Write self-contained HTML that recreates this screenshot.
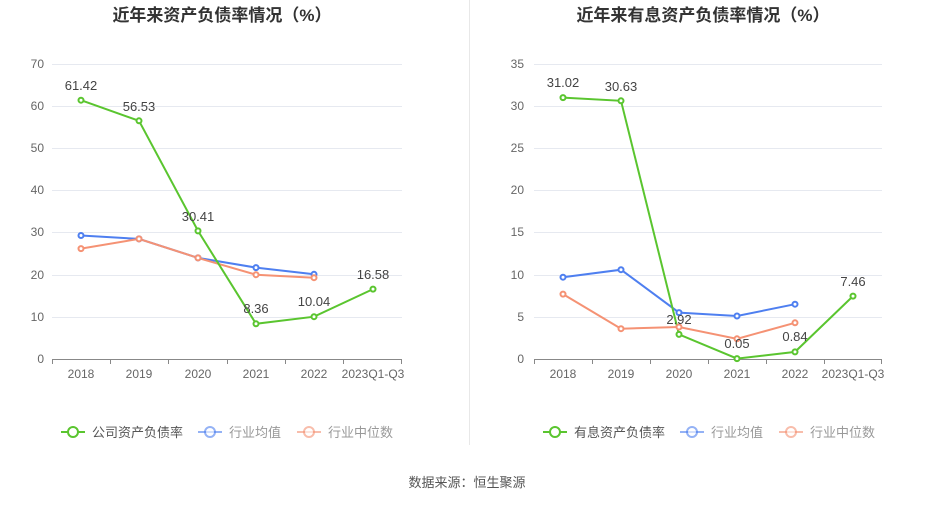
<!DOCTYPE html>
<html><head><meta charset="utf-8"><style>
body{margin:0;background:#fff;}
svg text{font-family:"Liberation Sans","Noto Sans CJK SC",sans-serif;}
</style></head><body>
<svg width="935" height="504" xmlns="http://www.w3.org/2000/svg">
<rect width="935" height="504" fill="#fff"/>
<line x1="469.5" y1="0" x2="469.5" y2="445" stroke="#e8e8e8"/>
<text x="222" y="21" font-size="17" font-weight="bold" text-anchor="middle" fill="#333">近年来资产负债率情况（%）</text>
<text x="703" y="21" font-size="17" font-weight="bold" text-anchor="middle" fill="#333">近年来有息资产负债率情况（%）</text>
<g stroke="#e6e9f0" stroke-width="1">
<line x1="52" x2="402" y1="64.5" y2="64.5"/><line x1="52" x2="402" y1="106.5" y2="106.5"/><line x1="52" x2="402" y1="148.5" y2="148.5"/><line x1="52" x2="402" y1="190.5" y2="190.5"/><line x1="52" x2="402" y1="232.5" y2="232.5"/><line x1="52" x2="402" y1="275.5" y2="275.5"/><line x1="52" x2="402" y1="317.5" y2="317.5"/>
<line x1="534" x2="882" y1="64.5" y2="64.5"/><line x1="534" x2="882" y1="106.5" y2="106.5"/><line x1="534" x2="882" y1="148.5" y2="148.5"/><line x1="534" x2="882" y1="190.5" y2="190.5"/><line x1="534" x2="882" y1="232.5" y2="232.5"/><line x1="534" x2="882" y1="275.5" y2="275.5"/><line x1="534" x2="882" y1="317.5" y2="317.5"/>
</g>
<line x1="52" x2="402" y1="359.5" y2="359.5" stroke="#888"/>
<line x1="534" x2="882" y1="359.5" y2="359.5" stroke="#888"/>
<g stroke="#888">
<line x1="52.5" x2="52.5" y1="359" y2="364"/><line x1="110.5" x2="110.5" y1="359" y2="364"/><line x1="168.5" x2="168.5" y1="359" y2="364"/><line x1="227.5" x2="227.5" y1="359" y2="364"/><line x1="285.5" x2="285.5" y1="359" y2="364"/><line x1="343.5" x2="343.5" y1="359" y2="364"/><line x1="401.5" x2="401.5" y1="359" y2="364"/>
<line x1="534.5" x2="534.5" y1="359" y2="364"/><line x1="592.5" x2="592.5" y1="359" y2="364"/><line x1="650.5" x2="650.5" y1="359" y2="364"/><line x1="708.5" x2="708.5" y1="359" y2="364"/><line x1="766.5" x2="766.5" y1="359" y2="364"/><line x1="824.5" x2="824.5" y1="359" y2="364"/><line x1="881.5" x2="881.5" y1="359" y2="364"/>
</g>
<g font-size="12" fill="#666" text-anchor="end">
<text x="44" y="68">70</text><text x="44" y="110">60</text><text x="44" y="152">50</text><text x="44" y="194">40</text><text x="44" y="236">30</text><text x="44" y="279">20</text><text x="44" y="321">10</text><text x="44" y="363">0</text>
<text x="524" y="68">35</text><text x="524" y="110">30</text><text x="524" y="152">25</text><text x="524" y="194">20</text><text x="524" y="236">15</text><text x="524" y="279">10</text><text x="524" y="321">5</text><text x="524" y="363">0</text>
</g>
<g font-size="12" fill="#666" text-anchor="middle">
<text x="81" y="378">2018</text><text x="139" y="378">2019</text><text x="198" y="378">2020</text><text x="256" y="378">2021</text><text x="314" y="378">2022</text><text x="373" y="378">2023Q1-Q3</text>
<text x="563" y="378">2018</text><text x="621" y="378">2019</text><text x="679" y="378">2020</text><text x="737" y="378">2021</text><text x="795" y="378">2022</text><text x="853" y="378">2023Q1-Q3</text>
</g>
<g fill="#fff" stroke-width="2">
<polyline fill="none" stroke="#4e7ff0" points="81,235.5 139,238.9 198,257.9 256,267.6 314,274.3"/>
<polyline fill="none" stroke="#f59274" points="81,248.6 139,238.9 198,257.9 256,274.7 314,277.7"/>
<polyline fill="none" stroke="#5ac52f" points="81,100.2 139,120.8 198,230.9 256,323.8 314,316.7 373,289.1"/>
<polyline fill="none" stroke="#4e7ff0" points="563,277.2 621,269.7 679,312.6 737,316 795,304.2"/>
<polyline fill="none" stroke="#f59274" points="563,294.1 621,328.7 679,327 737,338.8 795,322.8"/>
<polyline fill="none" stroke="#5ac52f" points="563,97.6 621,100.8 679,334.4 737,358.6 795,351.9 853,296.1"/>
<g stroke="#4e7ff0"><circle cx="81" cy="235.5" r="2.5"/><circle cx="139" cy="238.9" r="2.5"/><circle cx="198" cy="257.9" r="2.5"/><circle cx="256" cy="267.6" r="2.5"/><circle cx="314" cy="274.3" r="2.5"/>
<circle cx="563" cy="277.2" r="2.5"/><circle cx="621" cy="269.7" r="2.5"/><circle cx="679" cy="312.6" r="2.5"/><circle cx="737" cy="316" r="2.5"/><circle cx="795" cy="304.2" r="2.5"/></g>
<g stroke="#f59274"><circle cx="81" cy="248.6" r="2.5"/><circle cx="139" cy="238.9" r="2.5"/><circle cx="198" cy="257.9" r="2.5"/><circle cx="256" cy="274.7" r="2.5"/><circle cx="314" cy="277.7" r="2.5"/>
<circle cx="563" cy="294.1" r="2.5"/><circle cx="621" cy="328.7" r="2.5"/><circle cx="679" cy="327" r="2.5"/><circle cx="737" cy="338.8" r="2.5"/><circle cx="795" cy="322.8" r="2.5"/></g>
<g stroke="#5ac52f"><circle cx="81" cy="100.2" r="2.5"/><circle cx="139" cy="120.8" r="2.5"/><circle cx="198" cy="230.9" r="2.5"/><circle cx="256" cy="323.8" r="2.5"/><circle cx="314" cy="316.7" r="2.5"/><circle cx="373" cy="289.1" r="2.5"/>
<circle cx="563" cy="97.6" r="2.5"/><circle cx="621" cy="100.8" r="2.5"/><circle cx="679" cy="334.4" r="2.5"/><circle cx="737" cy="358.6" r="2.5"/><circle cx="795" cy="351.9" r="2.5"/><circle cx="853" cy="296.1" r="2.5"/></g>
</g>
<g font-size="13" fill="#444" text-anchor="middle">
<text x="81" y="90">61.42</text><text x="139" y="111">56.53</text><text x="198" y="221">30.41</text><text x="256" y="313">8.36</text><text x="314" y="306">10.04</text><text x="373" y="279">16.58</text>
<text x="563" y="87">31.02</text><text x="621" y="91">30.63</text><text x="679" y="324">2.92</text><text x="737" y="348">0.05</text><text x="795" y="341">0.84</text><text x="853" y="286">7.46</text>
</g>
<g font-size="13" fill="#555" stroke-width="2">
<line x1="61" x2="85" y1="432" y2="432" stroke="#5ac52f"/><circle cx="73" cy="432" r="5" fill="#fff" stroke="#5ac52f"/><text x="92" y="437">公司资产负债率</text>
<line x1="198" x2="222" y1="432" y2="432" stroke="#4e7ff0" opacity="0.6"/><circle cx="210" cy="432" r="5" fill="#fff" stroke="#4e7ff0" opacity="0.6"/><text x="229" y="437" fill="#999">行业均值</text>
<line x1="297" x2="321" y1="432" y2="432" stroke="#f59274" opacity="0.6"/><circle cx="309" cy="432" r="5" fill="#fff" stroke="#f59274" opacity="0.6"/><text x="328" y="437" fill="#999">行业中位数</text>
<line x1="543" x2="567" y1="432" y2="432" stroke="#5ac52f"/><circle cx="555" cy="432" r="5" fill="#fff" stroke="#5ac52f"/><text x="574" y="437">有息资产负债率</text>
<line x1="680" x2="704" y1="432" y2="432" stroke="#4e7ff0" opacity="0.6"/><circle cx="692" cy="432" r="5" fill="#fff" stroke="#4e7ff0" opacity="0.6"/><text x="711" y="437" fill="#999">行业均值</text>
<line x1="779" x2="803" y1="432" y2="432" stroke="#f59274" opacity="0.6"/><circle cx="791" cy="432" r="5" fill="#fff" stroke="#f59274" opacity="0.6"/><text x="810" y="437" fill="#999">行业中位数</text>
</g>
<text x="467" y="487" font-size="13" fill="#555" text-anchor="middle">数据来源：恒生聚源</text>
</svg>
</body></html>
